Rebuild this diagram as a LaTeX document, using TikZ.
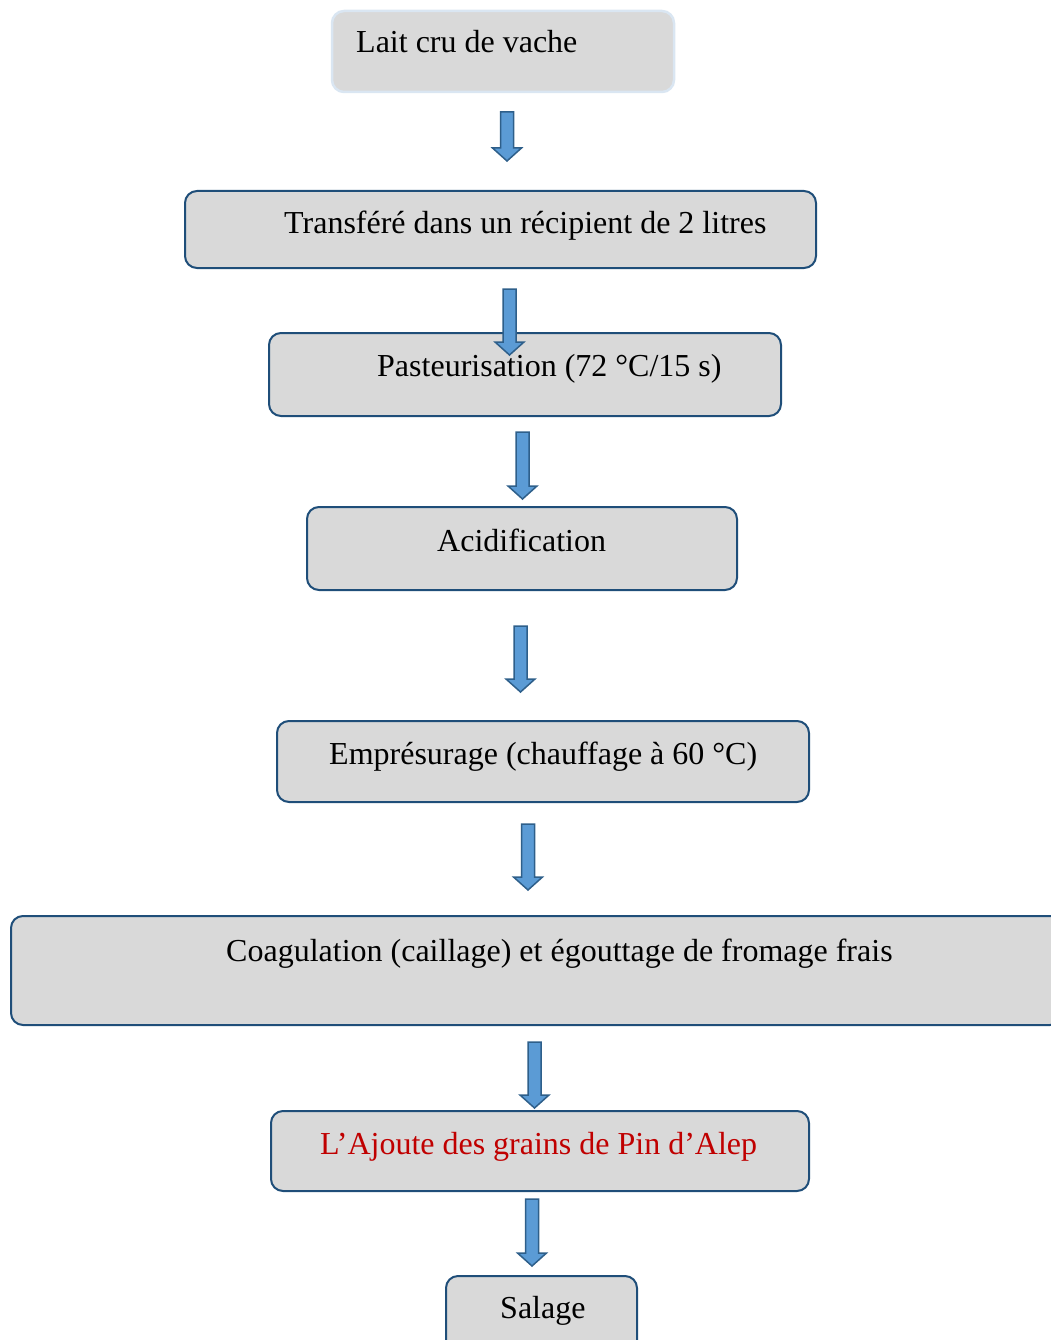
\documentclass[tikz,border=0pt]{standalone}
\usepackage{fontspec}
\setmainfont{Liberation Serif}
\usetikzlibrary{calc}
\definecolor{boxfill}{HTML}{D9D9D9}
\definecolor{boxline}{HTML}{1F4E79}
\definecolor{lightline}{HTML}{DAE6F2}
\definecolor{arrfill}{HTML}{5B9BD5}
\definecolor{arrline}{HTML}{2E5F8A}
\definecolor{redtxt}{HTML}{C00000}
\tikzset{
  stepbox/.style={draw=boxline, line width=2pt, fill=boxfill, rounded corners=12pt},
  lightbox/.style={draw=lightline, line width=2.5pt, fill=boxfill, rounded corners=12pt},
  steptext/.style={inner sep=0pt, anchor=base west, font=\fontsize{32}{38}\selectfont},
  blk/.style={fill=arrfill, draw=arrline, line width=1.5pt, line join=miter}
}
\newcommand\blkarrow[4]{% name, x, ytop, ytip
  \coordinate (#1t) at (#2,#3);
  \coordinate (#1b) at (#2,#4);
  \draw[blk] ($(#1t)+(-6.5,0)$) -- ($(#1t)+(6.5,0)$) -- ($(#1b)+(6.5,-13)$) -- ($(#1b)+(14.5,-13)$) -- (#1b) -- ($(#1b)+(-14.5,-13)$) -- ($(#1b)+(-6.5,-13)$) -- cycle;
}
\begin{document}
\begin{tikzpicture}[x=1pt,y=-1pt]
\useasboundingbox (0,0) rectangle (1050,1340);
% boxes
\path[lightbox] (332,11) rectangle (674,92);
\node[steptext] (t1) at (356,53) {Lait cru de vache};
\path[stepbox] (185,191) rectangle (816,268);
\node[steptext] (t2) at (284,234) {Transféré dans un récipient de 2 litres};
\path[stepbox] (269,333) rectangle (781,416);
\node[steptext] (t3) at (377,376) {Pasteurisation (72 °C/15 s)};
\path[stepbox] (307,507) rectangle (737,590);
\node[steptext] (t4) at (437,551) {Acidification};
\path[stepbox] (277,721) rectangle (809,802);
\node[steptext] (t5) at (329,764) {Emprésurage (chauffage à 60 °C)};
\path[stepbox] (11,916) rectangle (1062,1025);
\node[steptext] (t6) at (226,961) {Coagulation (caillage) et égouttage de fromage frais};
\path[stepbox] (271,1111) rectangle (809,1191);
\node[steptext, text=redtxt] (t7) at (320,1154) {L’Ajoute des grains de Pin d’Alep};
\path[stepbox] (446,1276) rectangle (637,1360);
\node[steptext] (t8) at (500,1318) {Salage};
% block arrows
\blkarrow{a1}{507}{112}{161}
\blkarrow{a2}{509.5}{289}{355}
\blkarrow{a3}{522.5}{432}{499}
\blkarrow{a4}{520.5}{626}{692}
\blkarrow{a5}{528}{824}{890}
\blkarrow{a6}{534.5}{1042}{1108}
\blkarrow{a7}{532}{1199}{1266}
\end{tikzpicture}
\end{document}
